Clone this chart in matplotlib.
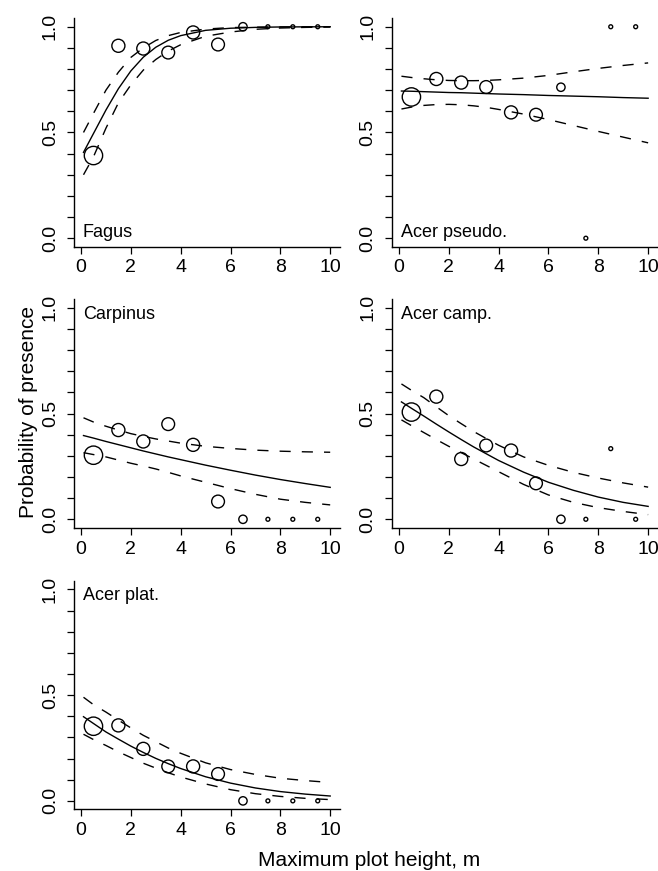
import numpy as np
import matplotlib
matplotlib.use("Agg")
import matplotlib.pyplot as plt

plt.rcParams["font.family"] = ["Liberation Sans", "DejaVu Sans"]

# ── data ─────────────────────────────────────────────────────────────────────

# height classes (class mid points, m) and circle diameters (pt) per class
height_mid = [0.5, 1.5, 2.5, 3.5, 4.5, 5.5, 6.5, 7.5, 8.5, 9.5]
circle_pt = [13.2, 9.4, 9.4, 9.2, 9.4, 9.2, 6.0, 2.8, 2.8, 2.8]

# observed proportion of plots with the species
obs_fagus = [0.391, 0.910, 0.897, 0.878, 0.973, 0.916, 1.0, 1.0, 1.0, 1.0]
obs_pseudo = [0.668, 0.753, 0.736, 0.715, 0.595, 0.584, 0.714, 0.0, 1.0, 1.0]
obs_carpinus = [0.303, 0.422, 0.368, 0.450, 0.352, 0.084, 0.0, 0.0, 0.0, 0.0]
obs_camp = [0.507, 0.580, 0.285, 0.349, 0.325, 0.170, 0.0, 0.0, 0.334, 0.0]
obs_plat = [0.353, 0.357, 0.246, 0.163, 0.163, 0.127, 0.0, 0.0, 0.0, 0.0]

# fitted curves and confidence bands, read at these heights
curve_x = [0.1, 0.5, 1, 1.5, 2, 2.5, 3, 3.5, 4, 5, 6, 7, 8, 9, 10]

fit_fagus = [0.406, 0.495, 0.606, 0.707, 0.791, 0.856, 0.903, 0.936, 0.958, 0.983, 0.993, 0.997, 0.999, 0.9995, 1.0]
upr_fagus = [0.50, 0.59, 0.70, 0.785, 0.855, 0.90, 0.935, 0.958, 0.973, 0.989, 0.996, 0.998, 0.999, 1.0, 1.0]
lwr_fagus = [0.30, 0.385, 0.52, 0.64, 0.725, 0.795, 0.845, 0.885, 0.915, 0.955, 0.975, 0.988, 0.994, 0.997, 0.999]

fit_pseudo = [0.696, 0.695, 0.693, 0.691, 0.689, 0.688, 0.686, 0.684, 0.682, 0.679, 0.675, 0.672, 0.669, 0.665, 0.662]
upr_pseudo = [0.766, 0.760, 0.754, 0.749, 0.746, 0.745, 0.745, 0.746, 0.749, 0.757, 0.770, 0.787, 0.803, 0.817, 0.829]
lwr_pseudo = [0.611, 0.620, 0.628, 0.632, 0.633, 0.631, 0.626, 0.619, 0.609, 0.587, 0.561, 0.533, 0.505, 0.478, 0.451]

fit_carpinus = [0.396, 0.384, 0.368, 0.353, 0.338, 0.323, 0.309, 0.295, 0.282, 0.256, 0.232, 0.209, 0.188, 0.169, 0.151]
upr_carpinus = [0.48, 0.46, 0.44, 0.422, 0.405, 0.392, 0.38, 0.37, 0.36, 0.345, 0.335, 0.327, 0.322, 0.319, 0.317]
lwr_carpinus = [0.315, 0.306, 0.295, 0.28, 0.265, 0.252, 0.238, 0.222, 0.205, 0.175, 0.145, 0.118, 0.095, 0.08, 0.068]

fit_camp = [0.555, 0.525, 0.488, 0.450, 0.413, 0.377, 0.342, 0.310, 0.278, 0.223, 0.175, 0.137, 0.105, 0.080, 0.061]
upr_camp = [0.64, 0.61, 0.575, 0.532, 0.49, 0.452, 0.415, 0.382, 0.35, 0.295, 0.255, 0.222, 0.195, 0.172, 0.152]
lwr_camp = [0.47, 0.443, 0.41, 0.377, 0.345, 0.315, 0.285, 0.255, 0.225, 0.165, 0.115, 0.08, 0.055, 0.037, 0.022]

fit_plat = [0.398, 0.366, 0.326, 0.292, 0.259, 0.229, 0.201, 0.176, 0.153, 0.114, 0.084, 0.061, 0.044, 0.032, 0.023]
upr_plat = [0.49, 0.455, 0.42, 0.382, 0.345, 0.31, 0.28, 0.25, 0.225, 0.18, 0.148, 0.125, 0.107, 0.096, 0.087]
lwr_plat = [0.315, 0.29, 0.262, 0.232, 0.205, 0.178, 0.155, 0.133, 0.113, 0.08, 0.053, 0.034, 0.021, 0.012, 0.006]

species = ["Fagus", "Acer pseudo.", "Carpinus", "Acer camp.", "Acer plat."]

# ── figure ───────────────────────────────────────────────────────────────────

fig = plt.figure(figsize=(6.58, 8.71), dpi=100)

col_left = [0.1119, 0.5951]
row_bottom = [0.7168, 0.3941, 0.0708]
ax_w, ax_h = 0.4049, 0.2622

panels = [
    (0, 0, species[0], obs_fagus, fit_fagus, upr_fagus, lwr_fagus, "bottom"),
    (0, 1, species[1], obs_pseudo, fit_pseudo, upr_pseudo, lwr_pseudo, "bottom"),
    (1, 0, species[2], obs_carpinus, fit_carpinus, upr_carpinus, lwr_carpinus, "top"),
    (1, 1, species[3], obs_camp, fit_camp, upr_camp, lwr_camp, "top"),
    (2, 0, species[4], obs_plat, fit_plat, upr_plat, lwr_plat, "top"),
]

for row, col, name, obs, fit, upr, lwr, where in panels:
    ax = fig.add_axes([col_left[col], row_bottom[row], ax_w, ax_h])

    ax.plot(curve_x, fit, color="black", lw=1.0)
    ax.plot(curve_x, upr, color="black", lw=1.0, linestyle=(0, (8, 8)))
    ax.plot(curve_x, lwr, color="black", lw=1.0, linestyle=(0, (8, 8)))
    ax.scatter(height_mid, obs, s=np.array(circle_pt) ** 2, facecolors="none",
               edgecolors="black", linewidths=1.0, zorder=3, clip_on=False)

    ax.set_xlim(-0.296, 10.396)
    ax.set_ylim(-0.04, 1.04)
    ax.set_xticks([0, 2, 4, 6, 8, 10])
    yt = [0, 0.1, 0.2, 0.3, 0.4, 0.5, 0.6, 0.7, 0.8, 0.9, 1.0]
    ax.set_yticks(yt)
    ax.set_yticklabels(["0.0", "", "", "", "", "0.5", "", "", "", "", "1.0"])

    for side in ["top", "right"]:
        ax.spines[side].set_visible(False)
    for side in ["left", "bottom"]:
        ax.spines[side].set_linewidth(1.0)

    ax.tick_params(axis="both", direction="out", length=5.2, width=0.9,
                   labelsize=14, colors="black")
    ax.tick_params(axis="x", pad=4)
    ax.tick_params(axis="y", pad=5.5, labelrotation=90)
    for lab in ax.get_yticklabels():
        lab.set_verticalalignment("center")

    if where == "bottom":
        ax.text(0.07, 0.008, name, fontsize=13, va="baseline", ha="left")
    else:
        ax.text(0.07, 0.948, name, fontsize=13, va="baseline", ha="left")

fig.text(0.044, 0.527, "Probability of presence", rotation=90,
         ha="center", va="center", fontsize=15)
fig.text(0.561, 0.0057, "Maximum plot height, m", ha="center",
         va="baseline", fontsize=15)

fig.savefig("out.png", dpi=100)
